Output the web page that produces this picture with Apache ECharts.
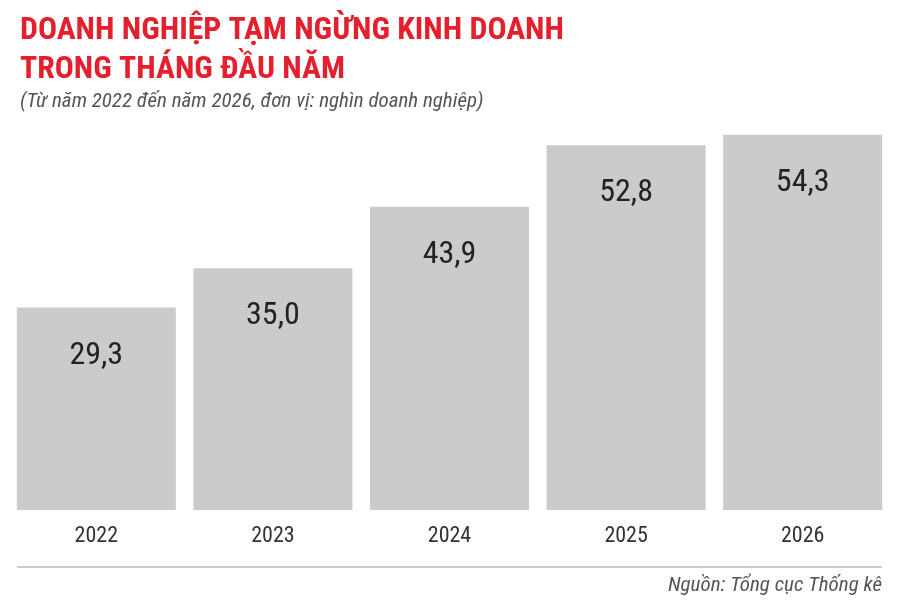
<!DOCTYPE html>
<html>
<head>
<meta charset="utf-8">
<script src="https://cdn.jsdelivr.net/npm/echarts@6/dist/echarts.min.js"></script>
<style>html,body{margin:0;padding:0;background:#fff;}#c{width:900px;height:605px;}</style>
</head>
<body>
<div id="c"></div>
<script>
var categories = ['2022', '2023', '2024', '2025', '2026'];
var values = [29.3, 35.0, 43.9, 52.8, 54.3];
var titleLines = ['DOANH NGHIỆP TẠM NGỪNG KINH DOANH', 'TRONG THÁNG ĐẦU NĂM'];
var subtitle = '(Từ năm 2022 đến năm 2026, đơn vị: nghìn doanh nghiệp)';
var source = 'Nguồn: Tổng cục Thống kê';

var NARROW = '"Roboto Condensed", "DejaVu Sans Condensed", "Liberation Sans Narrow", "Roboto", sans-serif';
var chart = echarts.init(document.getElementById('c'), null, {renderer: 'canvas'});
chart.setOption({
  backgroundColor: '#ffffff',
  animation: false,
  title: {
    text: titleLines.join('\n'),
    subtext: subtitle,
    left: 15,
    top: 7,
    itemGap: 1,
    textStyle: {color: '#e4202f', fontFamily: NARROW, fontWeight: 'bold', fontSize: 31.7, lineHeight: 39},
    subtextStyle: {color: '#555555', fontFamily: NARROW, fontStyle: 'italic', fontSize: 21}
  },
  grid: {left: 8, right: 9, top: 130, height: 380},
  xAxis: {
    type: 'category',
    data: categories,
    axisLine: {show: false},
    axisTick: {show: false},
    axisLabel: {color: '#333333', fontFamily: NARROW, fontSize: 22, margin: 15}
  },
  yAxis: {
    type: 'value',
    min: 0,
    max: 55,
    show: false,
    splitLine: {show: false}
  },
  series: [{
    type: 'bar',
    data: values,
    barWidth: 159,
    itemStyle: {color: '#cccacb'},
    label: {
      show: true,
      position: 'insideTop',
      distance: 32,
      color: '#222222',
      fontFamily: NARROW,
      fontSize: 32,
      formatter: function (p) { return p.value.toFixed(1).replace('.', ','); }
    }
  }],
  graphic: [
    {type: 'line', shape: {x1: 17, y1: 567, x2: 882, y2: 567}, style: {stroke: '#cccccc', lineWidth: 2}},
    {type: 'text', right: 18, top: 575, style: {text: source, fill: '#555555', font: 'italic 21px ' + NARROW, textAlign: 'right'}}
  ]
});
</script>
</body>
</html>
